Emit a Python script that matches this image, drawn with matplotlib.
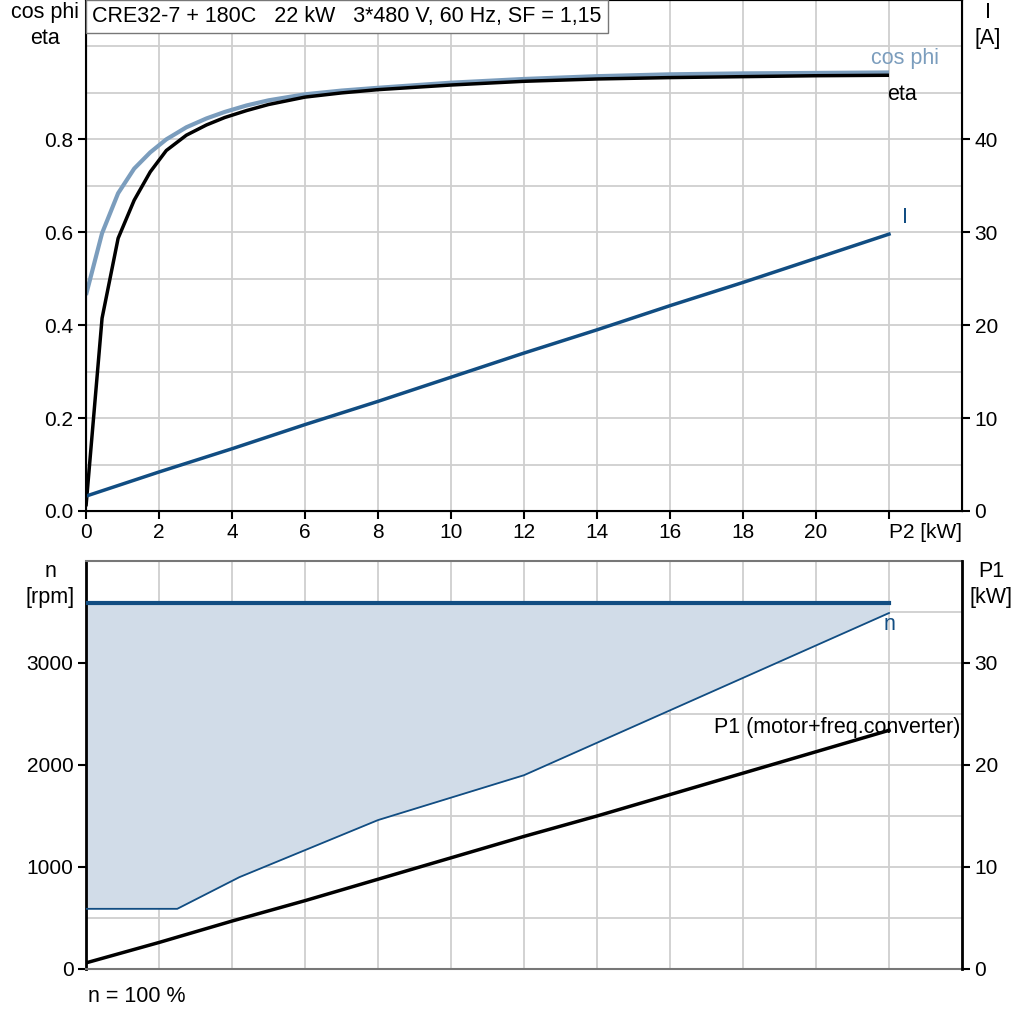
import numpy as np
import matplotlib
matplotlib.use("Agg")
import matplotlib.pyplot as plt
from matplotlib.transforms import ScaledTranslation

plt.rcParams['font.family'] = ['Liberation Sans', 'DejaVu Sans']
plt.rcParams['font.size'] = 15

# --- data ---
title = "CRE32-7 + 180C   22 kW   3*480 V, 60 Hz, SF = 1,15"

p2_eff = [0, 0.44, 0.88, 1.32, 1.76, 2.2, 2.75, 3.3, 3.8, 4.4, 5, 6, 7, 8, 10, 12, 14, 16, 18, 20, 22]
eta = [0.01, 0.415, 0.587, 0.669, 0.73, 0.776, 0.809, 0.831, 0.847, 0.862, 0.875, 0.891,
       0.900, 0.907, 0.917, 0.925, 0.93, 0.933, 0.935, 0.937, 0.938]
cos_phi = [0.465, 0.598, 0.684, 0.737, 0.772, 0.80, 0.826, 0.845, 0.859, 0.873, 0.884, 0.897,
           0.905, 0.911, 0.922, 0.93, 0.936, 0.94, 0.942, 0.943, 0.944]

p2_lin = [0, 2, 4, 6, 8, 10, 12, 14, 16, 18, 20, 22]
current = [1.6, 4.2, 6.7, 9.3, 11.8, 14.4, 17.0, 19.5, 22.1, 24.6, 27.2, 29.8]
p1 = [0.6, 2.6, 4.7, 6.7, 8.8, 10.9, 13.0, 15.0, 17.1, 19.2, 21.3, 23.4]

n_max_x = [0, 22]
n_max = [3590, 3590]
n_min_x = [0, 2.5, 4.2, 8, 12, 22]
n_min = [590, 590, 900, 1460, 1900, 3490]

xtick_vals = [0, 2, 4, 6, 8, 10, 12, 14, 16, 18, 20, 22]
xtick_labels = ['0', '2', '4', '6', '8', '10', '12', '14', '16', '18', '20', 'P2 [kW]']

c_cos = '#7b9dbd'
c_blue = '#114d82'
c_fill = '#d1dce8'
c_grid = '#cfcfcf'

fig = plt.figure(figsize=(10.24, 10.24), dpi=100)

# ---------- upper chart ----------
ax1 = fig.add_axes([86/1024, 1 - 511/1024, 876/1024, 511/1024])
ax1.set_xlim(0, 24)
ax1.set_ylim(0, 1.1)
ax1.set_xticks(xtick_vals)
ax1.set_xticklabels(xtick_labels)
last = ax1.get_xticklabels()[-1]
last.set_horizontalalignment('left')
last.set_transform(last.get_transform() + ScaledTranslation(-8/100, 0, fig.dpi_scale_trans))
ax1.set_yticks([0, 0.2, 0.4, 0.6, 0.8])
ax1.set_yticks(np.arange(0.1, 1.05, 0.1), minor=True)
ax1.grid(True, which='both', color=c_grid, lw=1.3)
ax1.set_axisbelow(True)
ax1.tick_params(which='minor', length=0)
ax1.tick_params(which='major', length=6, width=1.5, labelsize=15, pad=3)
for s in ax1.spines.values():
    s.set_linewidth(1.5)

ax1.plot(p2_eff, cos_phi, color=c_cos, lw=3, solid_capstyle='butt')
ax1.plot(p2_eff, eta, color='black', lw=2.5, solid_capstyle='butt')

ax1r = ax1.twinx()
ax1r.set_ylim(0, 55)
ax1r.set_yticks([0, 10, 20, 30, 40])
ax1r.tick_params(length=6, width=1.5, labelsize=15, pad=3)
ax1r.plot(p2_lin, current, color=c_blue, lw=2.5)

ax1.text(21.5, 0.944 + 0.008, 'cos phi', color=c_cos, fontsize=15.5, va='bottom')
ax1.text(21.95, 0.938 - 0.018, 'eta', color='black', fontsize=15.5, va='top')
ax1r.text(22.35, 30.5, 'I', color=c_blue, fontsize=15.5, va='bottom')

fig.text(45/1024, 1 - 2/1024, 'cos phi\neta', ha='center', va='top', fontsize=15.5,
         linespacing=1.3)
fig.text(988/1024, 1 - 2/1024, 'I\n[A]', ha='center', va='top', fontsize=15.5,
         linespacing=1.3)
fig.text(92/1024, 1 - 6/1024, title, ha='left', va='top', fontsize=15.5,
         bbox=dict(boxstyle='square,pad=0.3', fc='white', ec='#777777', lw=1))

# ---------- lower chart ----------
ax2 = fig.add_axes([86/1024, 1 - 969/1024, 876/1024, (969 - 561)/1024])
ax2.set_xlim(0, 24)
ax2.set_ylim(0, 4000)
ax2.set_xticks(xtick_vals)
ax2.tick_params(axis='x', length=0, labelbottom=False)
ax2.set_yticks([0, 1000, 2000, 3000])
ax2.set_yticks(np.arange(500, 3600, 500), minor=True)
ax2.grid(True, which='both', color=c_grid, lw=1.3)
ax2.set_axisbelow(True)
ax2.tick_params(axis='y', which='minor', length=0)
ax2.tick_params(axis='y', which='major', length=6, width=1.5, labelsize=15, pad=3)
ax2.spines['left'].set_linewidth(2)
ax2.spines['top'].set_color('#777777')
ax2.spines['bottom'].set_color('#777777')
ax2.spines['top'].set_linewidth(1.5)
ax2.spines['bottom'].set_linewidth(1.5)

x_fill = np.array(n_min_x)
ax2.fill_between(x_fill, np.interp(x_fill, n_max_x, n_max), n_min,
                 color=c_fill, lw=0, zorder=1.5)
ax2.plot(n_max_x, n_max, color=c_blue, lw=3, zorder=3)
ax2.plot(n_min_x, n_min, color=c_blue, lw=1.3, zorder=3)
ax2.text(21.85, n_min[-1] - 10, 'n', color=c_blue, fontsize=15.5, va='top')

ax2r = ax2.twinx()
ax2r.set_ylim(0, 40)
ax2r.set_yticks([0, 10, 20, 30])
ax2r.tick_params(length=6, width=1.5, labelsize=15, pad=3)
ax2r.spines['right'].set_linewidth(2)
ax2r.spines['top'].set_visible(False)
ax2r.spines['bottom'].set_visible(False)
ax2r.spines['left'].set_visible(False)
ax2r.plot(p2_lin, p1, color='black', lw=2.5)
ax2r.text(23.95, p1[-1] + 0.3, 'P1 (motor+freq.converter)', ha='right', va='center',
          fontsize=15.5)

fig.text(50/1024, 1 - 561/1024, 'n\n[rpm]', ha='center', va='top', fontsize=15.5,
         linespacing=1.3)
fig.text(991/1024, 1 - 561/1024, 'P1\n[kW]', ha='center', va='top', fontsize=15.5,
         linespacing=1.3)
fig.text(88/1024, 1 - 996/1024, 'n = 100 %', ha='left', va='center', fontsize=15.5)

fig.savefig('out.png', dpi=100)
